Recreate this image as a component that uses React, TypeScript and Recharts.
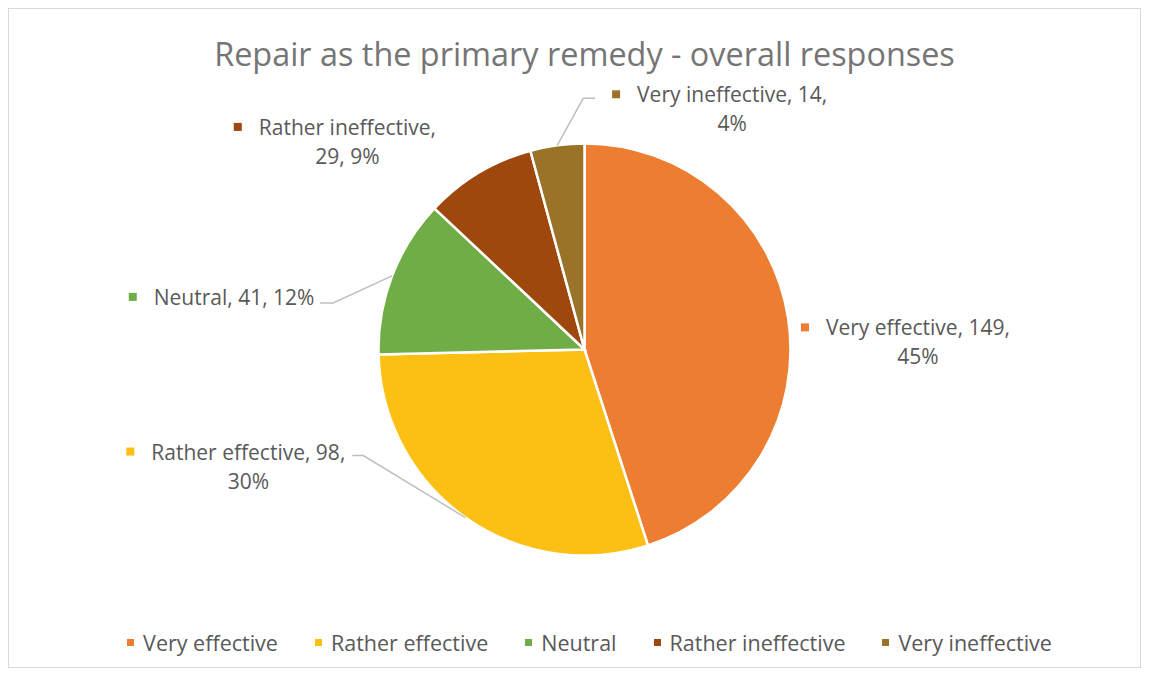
import React from 'react';
import { PieChart, Pie, Cell, Legend } from 'recharts';

const categories = ['Very effective', 'Rather effective', 'Neutral', 'Rather ineffective', 'Very ineffective'];
const counts = [149, 98, 41, 29, 14];
const percentLabels = ['45%', '30%', '12%', '9%', '4%'];
const colors = ['#ED7D31', '#FCBF14', '#70AD47', '#9E480E', '#9A7328'];
const chartTitle = 'Repair as the primary remedy - overall responses';

const data = categories.map((name, i) => ({ name, value: counts[i], pct: percentLabels[i] }));

// label layout: offsets of the text centre from the slice's outer edge point, leader elbow points
type LabelLayout = {
  split: 'pctSecond' | 'single' | 'nameOnly';
  dcx: number;
  dy: number;
  leader?: [number, number][];
};
const labelLayouts: LabelLayout[] = [
  { split: 'pctSecond', dcx: 130, dy: 10 },
  { split: 'pctSecond', dcx: -217, dy: -66, leader: [[-102, -62], [-113, -62]] },
  { split: 'single', dcx: -158, dy: 21, leader: [[-59, 27], [-72, 27]] },
  { split: 'nameOnly', dcx: -131, dy: -46 },
  { split: 'pctSecond', dcx: 175, dy: -51, leader: [[26, -47], [38, -47]] },
];

const FONT = '"Open Sans", sans-serif';
const LABEL_SIZE = 21;
const TEXT_COLOR = '#595959';

let measureCtx: CanvasRenderingContext2D | null = null;
function measureText(text: string, size: number): number {
  try {
    if (!measureCtx) measureCtx = document.createElement('canvas').getContext('2d');
    if (measureCtx) {
      measureCtx.font = `${size}px "Open Sans"`;
      return measureCtx.measureText(text).width;
    }
  } catch (e) {}
  return text.length * size * 0.5;
}

const renderLabel = (props: any) => {
  const { cx, cy, midAngle, outerRadius, index } = props;
  const RAD = Math.PI / 180;
  const ex = cx + outerRadius * Math.cos(-midAngle * RAD);
  const ey = cy + outerRadius * Math.sin(-midAngle * RAD);
  const lay = labelLayouts[index];
  const d = data[index];
  let line1 = '';
  let line2 = '';
  if (lay.split === 'pctSecond') {
    line1 = `${d.name}, ${d.value},`;
    line2 = d.pct;
  } else if (lay.split === 'single') {
    line1 = `${d.name}, ${d.value}, ${d.pct}`;
  } else {
    line1 = `${d.name},`;
    line2 = `${d.value}, ${d.pct}`;
  }
  const tcx = ex + lay.dcx;
  const ty = ey + lay.dy;
  const w = measureText(line1, LABEL_SIZE);
  const left = tcx - w / 2;
  let leaderPts = '';
  if (lay.leader) {
    leaderPts = [[ex, ey], ...lay.leader.map(([dx, dy]) => [ex + dx, ey + dy])]
      .map((p) => p.join(','))
      .join(' ');
  }
  return (
    <g key={`lbl-${index}`}>
      {lay.leader && (
        <polyline points={leaderPts} fill="none" stroke="#BFBFBF" strokeWidth={1.5} />
      )}
      <rect x={left - 25} y={ty - 4} width={8} height={8} fill={colors[index]} />
      <text
        x={tcx}
        y={ty}
        textAnchor="middle"
        dominantBaseline="central"
        fontFamily={FONT}
        fontSize={LABEL_SIZE}
        fill={TEXT_COLOR}
      >
        {line1}
      </text>
      {line2 && (
        <text
          x={tcx}
          y={ty + 29}
          textAnchor="middle"
          dominantBaseline="central"
          fontFamily={FONT}
          fontSize={LABEL_SIZE}
          fill={TEXT_COLOR}
        >
          {line2}
        </text>
      )}
    </g>
  );
};

const renderLegend = () => (
  <div
    style={{
      display: 'flex',
      justifyContent: 'center',
      alignItems: 'center',
      gap: 37,
      height: 28,
      paddingLeft: 30,
      fontFamily: FONT,
      fontSize: 21.5,
      color: TEXT_COLOR,
    }}
  >
    {categories.map((c, i) => (
      <div key={c} style={{ display: 'flex', alignItems: 'center' }}>
        <span
          style={{ display: 'inline-block', width: 7, height: 7, background: colors[i], marginRight: 9 }}
        />
        <span style={{ whiteSpace: 'nowrap' }}>{c}</span>
      </div>
    ))}
  </div>
);

export default function App() {
  return (
    <div
      style={{
        position: 'relative',
        width: 1131,
        height: 658,
        border: '1px solid #D9D9D9',
        background: '#fff',
      }}
    >
      <div
        style={{
          position: 'absolute',
          top: 28,
          left: 10,
          width: 1131,
          textAlign: 'center',
          fontFamily: FONT,
          fontSize: 32.4,
          lineHeight: '32px',
          color: '#757575',
          zIndex: 1,
        }}
      >
        {chartTitle}
      </div>
      <PieChart width={1131} height={658} margin={{ top: 0, right: 0, bottom: 0, left: 0 }}>
        <Pie
          data={data}
          dataKey="value"
          nameKey="name"
          cx={575.5}
          cy={340.5}
          outerRadius={206}
          startAngle={90}
          endAngle={-270}
          stroke="#FFFFFF"
          strokeWidth={2.5}
          label={renderLabel}
          labelLine={false}
          isAnimationActive={false}
        >
          {data.map((d, i) => (
            <Cell key={d.name} fill={colors[i]} />
          ))}
        </Pie>
        <Legend
          content={renderLegend}
          wrapperStyle={{ position: 'absolute', top: 619, left: 0, width: 1131 }}
        />
      </PieChart>
    </div>
  );
}
